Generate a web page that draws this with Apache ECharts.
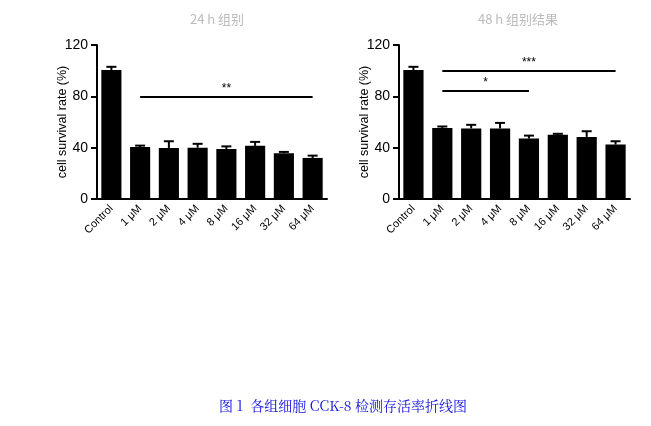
<!DOCTYPE html>
<html><head><meta charset="utf-8">
<script src="https://cdn.jsdelivr.net/npm/echarts@6/dist/echarts.min.js"></script>
<style>html,body{margin:0;padding:0;background:#fff}#c{width:651px;height:426px}</style>
</head><body><div id="c"></div>
<script>
const categories = ["Control","1 μM","2 μM","4 μM","8 μM","16 μM","32 μM","64 μM"];
const leftMeans = [100.5, 40.6, 39.8, 40, 39, 41.4, 35.7, 32];
const leftErrTop = [103, 41.6, 45, 43, 41, 44.5, 36.7, 33.8];
const rightMeans = [100.5, 55.4, 55, 55, 47.1, 50, 48.4, 42.4];
const rightErrTop = [103, 56.5, 57.8, 59.3, 49.4, 50.8, 52.8, 45];
const leftTitle = "24 h 组别";
const rightTitle = "48 h 组别结果";
const yName = "cell survival rate (%)";
const caption = "图 1  各组细胞 CCK-8 检测存活率折线图";

const chart = echarts.init(document.getElementById('c'));
function errSeries(idx, means, tops){
  return {
    type:'custom', xAxisIndex:idx, yAxisIndex:idx, z:1,
    data: means.map((m,i)=>[i, m, tops[i]]),
    renderItem:function(params, api){
      const x = api.value(0);
      const p0 = api.coord([x, api.value(1)]);
      const p1 = api.coord([x, api.value(2)]);
      const w = 5;
      return {type:'group', children:[
        {type:'line', shape:{x1:p0[0],y1:p0[1],x2:p1[0],y2:p1[1]}, style:{stroke:'#000',lineWidth:2}},
        {type:'line', shape:{x1:p1[0]-w,y1:p1[1],x2:p1[0]+w,y2:p1[1]}, style:{stroke:'#000',lineWidth:2}}
      ]};
    }
  };
}
function sigLine(a,b,y,txt){
  return [{coord:[a,y], label:{formatter:txt}},{coord:[b,y]}];
}
function yNameText(x){
  return {type:'text', x:x, y:122, rotation:Math.PI/2,
    style:{text:yName, align:'center', verticalAlign:'middle', fill:'#000', font:'12.5px "Liberation Sans", Arial'}};
}
const yAxisBase = {
  type:'value', min:0, max:120, interval:40,
  axisLine:{show:true, lineStyle:{color:'#000', width:2}},
  axisTick:{show:true, length:6, lineStyle:{color:'#000', width:2}},
  axisLabel:{fontFamily:'Liberation Sans, Arial', fontSize:14, color:'#000', margin:9},
  splitLine:{show:false}
};
const xAxisBase = {
  type:'category', data:categories,
  axisLine:{lineStyle:{color:'#000', width:2}},
  axisTick:{alignWithLabel:true, length:5, lineStyle:{color:'#000', width:2}},
  axisLabel:{rotate:45, fontFamily:'Liberation Sans, Arial', fontSize:11, color:'#000', margin:8, interval:0}
};
const option = {
  animation:false,
  title:[
    {text:leftTitle, left:212, top:8, textAlign:'center', textStyle:{fontSize:13, color:'#bbb', fontWeight:'normal', fontFamily:'Noto Sans CJK SC'}},
    {text:rightTitle, left:513, top:8, textAlign:'center', textStyle:{fontSize:13, color:'#bbb', fontWeight:'normal', fontFamily:'Noto Sans CJK SC'}},
    {text:caption, left:338, top:394, textAlign:'center', textStyle:{fontSize:14, color:'#1010e0', fontWeight:'normal', fontFamily:'Noto Serif CJK SC, Noto Sans CJK SC, serif'}}
  ],
  graphic:[yNameText(63), yNameText(365)],
  grid:[
    {left:97, top:45, width:230, height:154},
    {left:399, top:45, width:231, height:154}
  ],
  xAxis:[Object.assign({gridIndex:0}, xAxisBase), Object.assign({gridIndex:1}, xAxisBase)],
  yAxis:[Object.assign({gridIndex:0}, yAxisBase), Object.assign({gridIndex:1}, yAxisBase)],
  series:[
    {type:'bar', xAxisIndex:0, yAxisIndex:0, data:leftMeans, barWidth:'70%', itemStyle:{color:'#000'}, z:2,
      markLine:{symbol:'none', silent:true, lineStyle:{color:'#000', width:2, type:'solid'},
        label:{position:'middle', color:'#000', fontSize:12, distance:2},
        data:[sigLine(categories[1], categories[7], 80, '**')]}},
    errSeries(0, leftMeans, leftErrTop),
    {type:'bar', xAxisIndex:1, yAxisIndex:1, data:rightMeans, barWidth:'70%', itemStyle:{color:'#000'}, z:2,
      markLine:{symbol:'none', silent:true, lineStyle:{color:'#000', width:2, type:'solid'},
        label:{position:'middle', color:'#000', fontSize:12, distance:2},
        data:[sigLine(categories[1], categories[7], 100, '***'), sigLine(categories[1], categories[4], 84.5, '*')]}},
    errSeries(1, rightMeans, rightErrTop)
  ]
};
chart.setOption(option);
</script></body></html>
